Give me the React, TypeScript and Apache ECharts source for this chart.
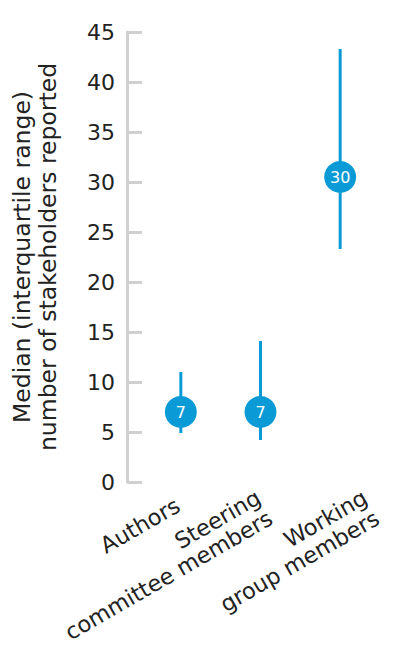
import React, { useEffect, useRef } from "react";
import * as echarts from "echarts";

const categories = ["Authors", "Steering\ncommittee members", "Working\ngroup members"];
const medians = [7, 7, 30.5];
const medianLabels = ["7", "7", "30"];
const q1 = [4.9, 4.2, 23.3];
const q3 = [11, 14.1, 43.3];
const yTicks = { min: 0, max: 45, interval: 5 };

// offset of each category label's top-right corner from its tick at the axis baseline
const labelOffset = [
  [-9, 11],
  [-8, 3],
  [19, 3],
];

const BLUE = "#0a9bd6";
const FONT = "DejaVu Sans";
const LINE_H = 24;
const LABEL_ROT = 30;

export default function App() {
  const ref = useRef<HTMLDivElement>(null);
  useEffect(() => {
    if (!ref.current) return;
    const chart = echarts.init(ref.current, null, { renderer: "svg" });
    chart.setOption({
      animation: false,
      grid: { left: 141, right: 13, top: 32, bottom: 164, containLabel: false },
      xAxis: {
        type: "category",
        data: categories,
        axisLine: { show: false },
        axisTick: { show: false },
        axisLabel: { show: false },
      },
      yAxis: {
        type: "value",
        min: yTicks.min,
        max: yTicks.max,
        interval: yTicks.interval,
        offset: 14,
        splitLine: { show: false },
        axisLine: { show: true, lineStyle: { color: "#d0d0d0", width: 3 } },
        axisTick: { show: true, inside: true, length: 15, lineStyle: { color: "#d0d0d0", width: 3 } },
        axisLabel: { margin: 12, fontSize: 22, fontFamily: FONT, color: "#222" },
        name: "Median (interquartile range)\nnumber of stakeholders reported",
        nameLocation: "middle",
        nameGap: 66,
        nameTextStyle: { fontSize: 23.5, fontFamily: FONT, color: "#222", lineHeight: 26 },
      },
      series: [
        {
          type: "custom",
          data: categories.map((_, i) => [i, q1[i], q3[i]]),
          encode: { x: 0, y: [1, 2] },
          renderItem: (params: any, api: any) => {
            const i = api.value(0);
            const lo = api.coord([i, api.value(1)]);
            const hi = api.coord([i, api.value(2)]);
            return {
              type: "line",
              shape: { x1: lo[0], y1: lo[1], x2: hi[0], y2: hi[1] },
              style: { stroke: BLUE, lineWidth: 3 },
            };
          },
          z: 2,
        },
        {
          type: "scatter",
          data: medians.map((v, i) => [i, v]),
          symbol: "circle",
          symbolSize: 32,
          itemStyle: { color: BLUE, opacity: 1 },
          label: {
            show: true,
            position: "inside",
            color: "#fff",
            fontSize: 16,
            fontFamily: FONT,
            formatter: (p: any) => medianLabels[p.dataIndex],
          },
          z: 3,
        },
      ],
    });
    const baseY = chart.convertToPixel({ yAxisIndex: 0 }, yTicks.min) as number;
    const graphics = categories.map((c, i) => {
      const tx = chart.convertToPixel({ xAxisIndex: 0 }, i) as number;
      return {
        type: "text",
        x: tx + labelOffset[i][0],
        y: baseY + labelOffset[i][1],
        rotation: (LABEL_ROT * Math.PI) / 180,
        style: {
          text: c,
          align: "right",
          verticalAlign: "top",
          fontSize: 22.5,
          lineHeight: LINE_H,
          fontFamily: FONT,
          fill: "#222",
        },
      };
    });
    chart.setOption({ graphic: graphics });
    return () => chart.dispose();
  }, []);
  return <div ref={ref} style={{ width: 393, height: 646, position: "absolute", left: 0, top: 0 }} />;
}
